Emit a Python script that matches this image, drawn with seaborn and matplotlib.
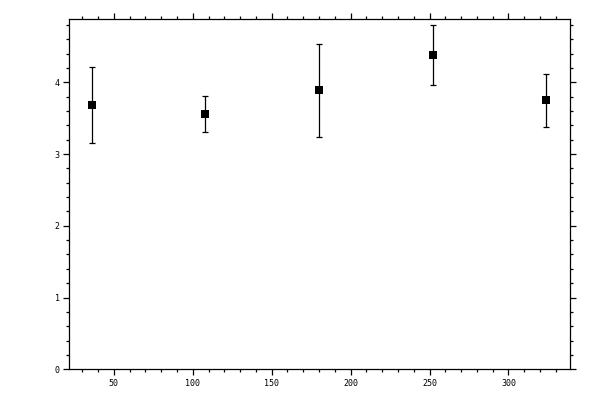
import matplotlib
matplotlib.use("Agg")
import matplotlib.pyplot as plt
import seaborn as sns
import pandas as pd
from matplotlib.ticker import MultipleLocator

x_vals = [36, 108, 180, 252, 324]
y_vals = [3.68, 3.56, 3.89, 4.38, 3.75]
y_err = [0.53, 0.25, 0.65, 0.42, 0.37]

df = pd.DataFrame({"x": x_vals, "y": y_vals, "err": y_err})

sns.set_style("ticks")
plt.rcParams['font.family'] = ['DejaVu Sans Mono', 'DejaVu Sans']

fig = plt.figure(figsize=(6, 4), dpi=100)
ax = fig.add_axes([0.1155, 0.0768, 0.8345, 0.8752])

ax.errorbar(df["x"], df["y"], yerr=df["err"], fmt="none", ecolor="black",
            elinewidth=0.9, capsize=2.2, capthick=0.9, zorder=2)
sns.scatterplot(data=df, x="x", y="y", marker="s", s=36, color="black",
                edgecolor="black", linewidth=0, ax=ax, zorder=3)

ax.set_xlim(21.8, 339)
ax.set_ylim(0, 4.88)
ax.xaxis.set_major_locator(MultipleLocator(50))
ax.xaxis.set_minor_locator(MultipleLocator(10))
ax.yaxis.set_major_locator(MultipleLocator(1))
ax.yaxis.set_minor_locator(MultipleLocator(0.2))
ax.set_xlabel("")
ax.set_ylabel("")

for s in ax.spines.values():
    s.set_visible(True)
    s.set_linewidth(0.9)
    s.set_color("black")

ax.tick_params(which="both", direction="out", top=True, right=True,
               labeltop=False, labelright=False, labelsize=6, colors="black",
               width=0.9)
ax.tick_params(which="major", length=4, pad=3)
ax.tick_params(which="minor", length=2.5)

fig.savefig("out.png", dpi=100)
